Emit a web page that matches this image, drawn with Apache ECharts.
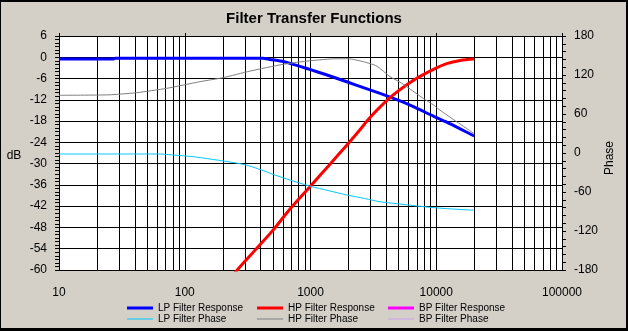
<!DOCTYPE html>
<html>
<head>
<meta charset="utf-8">
<script src="https://cdn.jsdelivr.net/npm/echarts@6/dist/echarts.min.js"></script>
<style>
  html, body { margin: 0; padding: 0; background: #D4D0C8; }
  #wrap { position: relative; width: 628px; height: 331px; }
  #chart { position: absolute; left: 0; top: 0; width: 628px; height: 331px; }
  #border { position: absolute; left: 0; top: 0; width: 628px; height: 331px; box-sizing: border-box;
            border-top: 2px solid #000; border-left: 1px solid #000; border-right: 2px solid #000; border-bottom: 3px solid #000;
            pointer-events: none; }
</style>
</head>
<body>
<div id="wrap"><div id="chart"></div><div id="border"></div></div>
<script>
// ---- data ----
const titleText = 'Filter Transfer Functions';
const xTickLabels = ['10', '100', '1000', '10000', '100000'];
const decadeTicks = [10, 100, 1000, 10000, 100000];
const minorGridFreqs = [20, 30, 40, 50, 60, 70, 80, 90,
  200, 300, 400, 500, 600, 700, 800, 900,
  2000, 3000, 4000, 5000, 6000, 7000, 8000, 9000,
  20000, 30000, 40000, 50000, 60000, 70000, 80000, 90000];

const lpRespFreq = [10, 27, 28, 420, 474, 607, 729, 850, 1000, 1300, 1941, 2600, 3573, 5150, 6577, 9490, 12100, 15500, 20000];
const lpRespDb   = [-0.5, -0.5, -0.25, -0.25, -0.6, -1.2, -2.0, -2.7, -3.5, -4.8, -6.9, -8.5, -10.2, -12.3, -13.9, -16.6, -18.3, -20.2, -22.2];

const hpRespFreq = [240, 300, 396, 500, 687, 990, 1400, 1941, 2400, 2972, 3600, 4550, 5800, 7430, 9500, 12100, 15500, 20000];
const hpRespDb   = [-61.5, -57.6, -52.9, -48.9, -42.8, -36.5, -30.5, -24.8, -21.0, -17.0, -13.9, -10.6, -7.8, -5.4, -3.4, -1.8, -0.9, -0.5];

const lpPhaseFreq = [10, 60, 80, 120, 190, 300, 420, 506, 647, 990, 1400, 1941, 2700, 3573, 5150, 7000, 9490, 13000, 20000];
const lpPhaseDeg  = [-1.5, -1.5, -3, -6, -11.5, -18, -27, -33, -40, -51, -58, -64.5, -70, -75, -78.5, -81.5, -84, -86, -88];

const hpPhaseFreq = [10, 25, 41.5, 72, 132, 203, 330, 608, 1000, 1600, 2000, 2630, 3360, 4290, 5150, 5820, 7890, 9490, 10700, 14550, 20000];
const hpPhaseDeg  = [88.8, 89.5, 92.8, 99.5, 109.7, 116, 126, 136.5, 142, 145, 145, 140.5, 133.8, 117.4, 109, 102, 84, 74, 66, 48, 30];

const bpRespFreq = [];
const bpRespDb = [];
const bpPhaseFreq = [];
const bpPhaseDeg = [];

const seriesNames = ['LP Filter Response', 'HP Filter Response', 'BP Filter Response', 'LP Filter Phase', 'HP Filter Phase', 'BP Filter Phase'];
const seriesColors = ['#0000FF', '#FF0000', '#FF00FF', '#00C8FF', '#808080', '#C8A0F0'];

// ---- build chart ----
const zip = (a, b) => a.map((v, i) => [v, b[i]]);
const FONT = '"Liberation Sans", Arial, sans-serif';

const chart = echarts.init(document.getElementById('chart'), null, { renderer: 'canvas' });

function gridLineItem(ext) {
  return function (params, api) {
    const cs = params.coordSys;
    const p = api.coord([api.value(0), api.value(1)]);
    const x = Math.round(p[0]) + 0.5;
    return {
      type: 'line',
      silent: true,
      shape: { x1: x, y1: cs.y - ext, x2: x, y2: ext ? cs.y : cs.y + cs.height },
      style: { stroke: '#000', lineWidth: 1 }
    };
  };
}

const lineSeries = [
  { name: seriesNames[0], data: zip(lpRespFreq, lpRespDb), yAxisIndex: 0, width: 3, smooth: 0.2 },
  { name: seriesNames[1], data: zip(hpRespFreq, hpRespDb), yAxisIndex: 0, width: 3, smooth: 0.3 },
  { name: seriesNames[2], data: zip(bpRespFreq, bpRespDb), yAxisIndex: 0, width: 3, smooth: false },
  { name: seriesNames[3], data: zip(lpPhaseFreq, lpPhaseDeg), yAxisIndex: 1, width: 1, smooth: 0.3 },
  { name: seriesNames[4], data: zip(hpPhaseFreq, hpPhaseDeg), yAxisIndex: 1, width: 1, smooth: 0.2 },
  { name: seriesNames[5], data: zip(bpPhaseFreq, bpPhaseDeg), yAxisIndex: 1, width: 1, smooth: false }
].map((s, i) => ({
  type: 'line',
  name: s.name,
  data: s.data,
  yAxisIndex: s.yAxisIndex,
  color: seriesColors[i],
  symbol: 'none',
  smooth: s.smooth,
  z: 3,
  clip: true,
  itemStyle: { color: seriesColors[i] },
  lineStyle: { width: s.width, color: seriesColors[i], cap: 'butt' },
  animation: false
}));

const legendPos = [
  { left: 127, top: 302 }, { left: 257, top: 302 }, { left: 388, top: 302 },
  { left: 127, top: 313 }, { left: 257, top: 313 }, { left: 388, top: 313 }
];
const legends = seriesNames.map((n, i) => ({
  left: legendPos[i].left,
  top: legendPos[i].top,
  padding: 0,
  orient: 'horizontal',
  selectedMode: false,
  itemWidth: 26,
  itemHeight: i < 3 ? 3 : 1,
  textStyle: { fontFamily: FONT, fontSize: 10, color: '#000', lineHeight: 12 },
  data: [{ name: n, icon: 'rect', itemStyle: { color: seriesColors[i], borderWidth: 0 } }]
}));

chart.setOption({
  animation: false,
  backgroundColor: '#D4D0C8',
  title: {
    text: titleText,
    left: 'center',
    top: 11,
    padding: 0,
    textStyle: { fontFamily: FONT, fontSize: 15, fontWeight: 'bold', color: '#000' }
  },
  legend: legends,
  grid: { left: 59, right: 66, top: 36, bottom: 61, containLabel: false, show: true, backgroundColor: '#FFFFFF', borderWidth: 0 },
  xAxis: {
    type: 'log',
    logBase: 10,
    min: 10,
    max: 100000,
    axisLine: { show: true, lineStyle: { color: '#000', width: 1 } },
    axisTick: { show: false },
    splitLine: { show: true, lineStyle: { color: '#000', width: 1, type: 'solid' } },
    axisLabel: {
      margin: 17,
      fontFamily: FONT, fontSize: 12, color: '#000',
      formatter: function (v) {
        const idx = Math.round(Math.log10(v)) - 1;
        return xTickLabels[idx] !== undefined ? xTickLabels[idx] : '';
      }
    }
  },
  yAxis: [
    {
      type: 'value',
      min: -60, max: 6, interval: 6,
      position: 'left',
      axisLine: { show: true, lineStyle: { color: '#000', width: 1 } },
      axisTick: { show: true, inside: false, length: 4, lineStyle: { color: '#000' } },
      minorTick: { show: true, splitNumber: 6, length: 4, lineStyle: { color: '#000' } },
      splitLine: { show: true, lineStyle: { color: '#000', width: 1 } },
      axisLabel: { margin: 12, fontFamily: FONT, fontSize: 12, color: '#000' }
    },
    {
      type: 'value',
      min: -180, max: 180, interval: 60,
      position: 'right',
      axisLine: { show: true, lineStyle: { color: '#000', width: 1 } },
      axisTick: { show: true, inside: false, length: 4, lineStyle: { color: '#000' } },
      minorTick: { show: true, splitNumber: 5, length: 4, lineStyle: { color: '#000' } },
      splitLine: { show: false },
      axisLabel: { margin: 12, fontFamily: FONT, fontSize: 12, color: '#000' }
    }
  ],
  graphic: [
    { type: 'text', x: 14, y: 156, style: { text: 'dB', font: '12px ' + FONT, fill: '#000', textAlign: 'center', textVerticalAlign: 'middle' } },
    { type: 'text', x: 610, y: 158, rotation: Math.PI / 2, style: { text: 'Phase', font: '12px ' + FONT, fill: '#000', textAlign: 'center', textVerticalAlign: 'middle' } }
  ],
  series: [
    {
      type: 'custom',
      name: 'minorGrid',
      silent: true,
      z: 1,
      clip: false,
      yAxisIndex: 0,
      encode: { x: 0, y: 1 },
      data: minorGridFreqs.map(f => [f, 0]),
      renderItem: gridLineItem(0),
      animation: false
    },
    {
      type: 'custom',
      name: 'decadeTopTicks',
      silent: true,
      z: 1,
      clip: false,
      yAxisIndex: 0,
      encode: { x: 0, y: 1 },
      data: decadeTicks.map(f => [f, 0]),
      renderItem: gridLineItem(3),
      animation: false
    }
  ].concat(lineSeries)
});
</script>
</body>
</html>
